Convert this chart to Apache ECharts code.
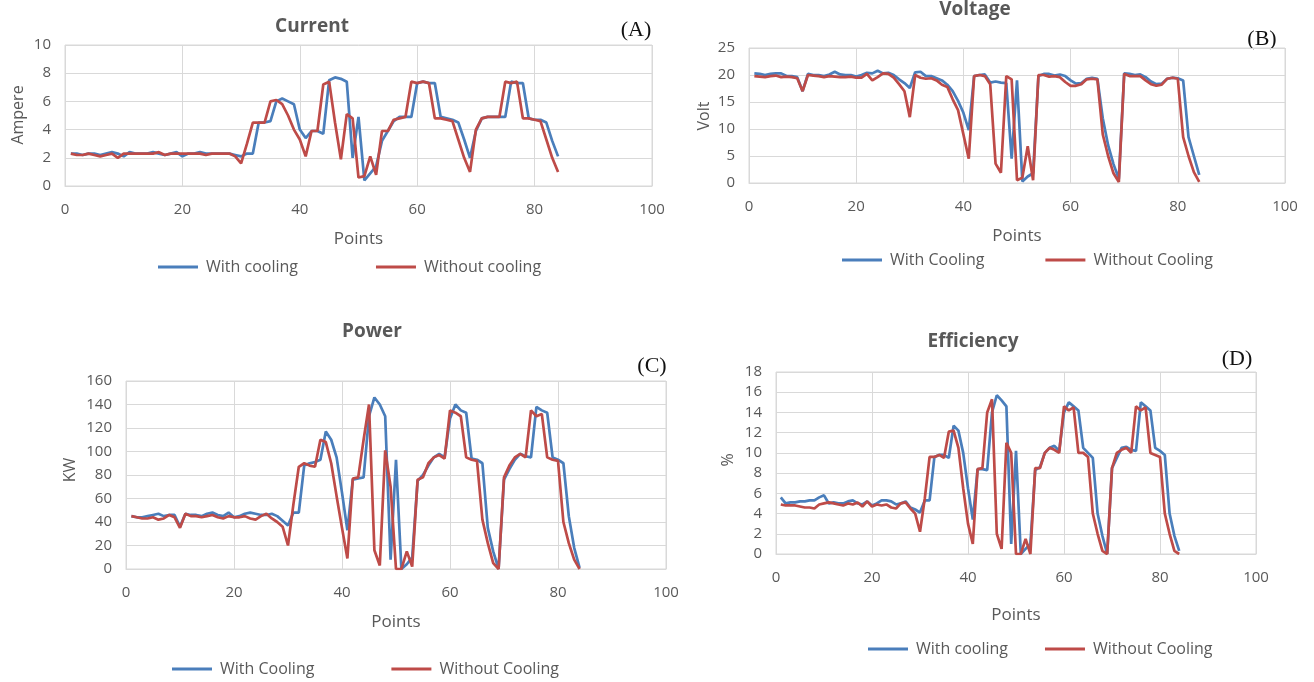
<!DOCTYPE html>
<html>
<head>
<meta charset="utf-8">
<script src="https://cdn.jsdelivr.net/npm/echarts@6/dist/echarts.min.js"></script>
<style>
  html, body { margin: 0; padding: 0; background: #fff; }
  #main { width: 1314px; height: 682px; }
</style>
</head>
<body>
<div id="main"></div>
<script>
// measurement points (x axis)
const points = [1, 2, 3, 4, 5, 6, 7, 8, 9, 10, 11, 12, 13, 14, 15, 16, 17, 18, 19, 20,
  21, 22, 23, 24, 25, 26, 27, 28, 29, 30, 31, 32, 33, 34, 35, 36, 37, 38, 39, 40,
  41, 42, 43, 44, 45, 46, 47, 48, 49, 50, 51, 52, 53, 54, 55, 56, 57, 58, 59, 60,
  61, 62, 63, 64, 65, 66, 67, 68, 69, 70, 71, 72, 73, 74, 75, 76, 77, 78, 79, 80,
  81, 82, 83, 84];

// (A) current, Ampere
const currentWith = [2.3, 2.3, 2.2, 2.3, 2.3, 2.2, 2.3, 2.4, 2.3, 2.1,
  2.4, 2.3, 2.3, 2.3, 2.4, 2.3, 2.2, 2.3, 2.4, 2.1,
  2.3, 2.3, 2.4, 2.3, 2.3, 2.3, 2.3, 2.3, 2.2, 2.1,
  2.3, 2.3, 4.5, 4.5, 4.6, 6.0, 6.2, 6.0, 5.8, 4.0,
  3.4, 3.9, 3.9, 3.7, 7.5, 7.7, 7.6, 7.4, 2.0, 4.9,
  0.4, 0.9, 1.4, 3.2, 3.9, 4.6, 4.9, 4.9, 4.9, 7.3,
  7.4, 7.3, 7.3, 4.9, 4.8, 4.7, 4.5, 3.3, 2.0, 3.9,
  4.8, 4.9, 4.9, 4.9, 4.9, 7.4, 7.3, 7.3, 4.8, 4.7,
  4.7, 4.5, 3.2, 2.1];
const currentWithout = [2.3, 2.2, 2.2, 2.3, 2.2, 2.1, 2.2, 2.3, 2.0, 2.3,
  2.3, 2.3, 2.3, 2.3, 2.3, 2.4, 2.2, 2.3, 2.3, 2.3,
  2.3, 2.3, 2.3, 2.2, 2.3, 2.3, 2.3, 2.3, 2.1, 1.6,
  3.0, 4.5, 4.5, 4.5, 6.0, 6.1, 5.8, 5.0, 4.0, 3.3,
  2.1, 3.9, 3.9, 7.2, 7.4, 4.5, 1.9, 5.1, 4.8, 0.6,
  0.7, 2.1, 0.8, 3.9, 3.9, 4.7, 4.8, 4.9, 7.4, 7.3,
  7.4, 7.3, 4.8, 4.8, 4.7, 4.6, 3.3, 2.0, 1.0, 4.0,
  4.8, 4.9, 4.9, 4.9, 7.4, 7.3, 7.4, 4.8, 4.8, 4.7,
  4.6, 3.3, 2.0, 1.0];

// (B) voltage, Volt
const voltageWith = [20.3, 20.2, 20.0, 20.2, 20.3, 20.3, 19.8, 19.8, 19.6, 17.0,
  20.2, 20.0, 20.0, 19.8, 20.1, 20.6, 20.1, 20.0, 20.0, 19.7,
  20.0, 20.4, 20.3, 20.8, 20.3, 20.4, 20.0, 19.2, 18.5, 17.6,
  20.5, 20.6, 19.8, 19.8, 19.4, 19.0, 18.2, 17.0, 15.2, 13.0,
  9.8, 19.8, 20.0, 20.1, 18.6, 18.8, 18.6, 18.5, 4.5, 19.0,
  0.3, 1.2, 1.8, 19.8, 20.2, 20.2, 19.9, 20.1, 19.8, 19.0,
  18.4, 18.5, 19.3, 19.5, 19.3, 12.0, 7.0, 3.5, 0.8, 20.3,
  20.2, 20.0, 20.1, 19.6, 18.8, 18.3, 18.4, 19.3, 19.5, 19.4,
  19.0, 8.5, 5.0, 1.5];
const voltageWithout = [19.8, 19.7, 19.6, 19.8, 19.9, 19.6, 19.7, 19.6, 19.4, 17.0,
  20.0, 19.9, 19.8, 19.6, 19.8, 19.7, 19.6, 19.6, 19.7, 19.5,
  19.5, 20.2, 19.0, 19.6, 20.3, 20.2, 19.5, 18.3, 17.0, 12.2,
  20.0, 19.5, 19.3, 19.4, 19.0, 18.2, 17.8, 15.5, 13.5, 9.0,
  4.5, 19.8, 20.0, 19.8, 18.3, 3.6, 1.9, 19.8, 19.2, 0.5,
  1.0, 6.8, 0.5, 20.0, 20.0, 19.7, 19.8, 19.6, 18.7, 18.0,
  18.0, 18.3, 19.2, 19.3, 19.2, 9.0, 5.0, 1.8, 0.2, 20.2,
  19.8, 19.8, 19.8, 19.0, 18.3, 18.0, 18.2, 19.3, 19.5, 19.3,
  8.5, 5.0, 2.0, 0.2];

// (C) power, KW
const powerWith = [45, 44, 44, 45, 46, 47, 45, 46, 46, 36,
  47, 46, 46, 45, 47, 48, 46, 45, 48, 44,
  45, 47, 48, 47, 46, 46, 47, 45, 41, 37,
  48, 48, 88, 90, 91, 93, 117, 110, 95, 65,
  33, 76, 77, 78, 130, 146, 140, 130, 8, 93,
  0, 4, 10, 75, 80, 88, 95, 98, 95, 128,
  140, 135, 133, 94, 93, 90, 35, 15, 0, 76,
  85, 93, 98, 96, 95, 138, 135, 133, 95, 93,
  90, 45, 18, 1];
const powerWithout = [45, 44, 43, 43, 44, 42, 43, 46, 44, 35,
  47, 45, 45, 44, 45, 46, 44, 43, 45, 44,
  44, 45, 43, 42, 45, 47, 43, 40, 36, 20,
  55, 87, 90, 88, 87, 110, 108, 90, 62, 35,
  9, 77, 78, 110, 140, 16, 3, 101, 70, 0,
  0, 15, 2, 76, 78, 90, 95, 97, 94, 135,
  133, 130, 95, 93, 92, 42, 22, 5, 0, 78,
  88, 95, 98, 95, 135, 130, 132, 95, 93, 92,
  40, 22, 8, 0];

// (D) efficiency, %
const effWith = [5.6, 5.0, 5.1, 5.1, 5.2, 5.2, 5.3, 5.3, 5.6, 5.8,
  5.0, 5.1, 5.0, 5.0, 5.2, 5.3, 5.0, 4.9, 5.2, 4.8,
  5.0, 5.3, 5.3, 5.2, 4.9, 5.0, 5.2, 4.6, 4.4, 4.1,
  5.3, 5.3, 9.6, 9.8, 9.8, 9.5, 12.7, 12.2, 10.0, 6.5,
  3.4, 8.4, 8.4, 8.3, 14.0, 15.7, 15.2, 14.6, 1.0, 10.2,
  0.0, 0.5, 1.0, 8.3, 8.6, 10.0, 10.5, 10.7, 10.2, 14.0,
  15.0, 14.6, 14.2, 10.5, 10.0, 9.5, 4.0, 1.8, 0.0, 8.5,
  9.5, 10.5, 10.6, 10.3, 10.2, 15.0, 14.6, 14.2, 10.5, 10.2,
  9.8, 4.0, 1.8, 0.3];
const effWithout = [4.9, 4.8, 4.8, 4.8, 4.7, 4.6, 4.6, 4.5, 4.9, 5.0,
  5.1, 5.0, 4.9, 4.8, 5.0, 4.9, 5.1, 4.7, 5.2, 4.7,
  4.9, 4.8, 4.9, 4.6, 4.5, 5.0, 5.1, 4.5, 4.0, 2.2,
  5.5, 9.6, 9.6, 9.8, 9.5, 12.1, 12.2, 10.5, 6.5, 3.0,
  1.0, 8.4, 8.5, 14.0, 15.3, 2.0, 0.5, 11.0, 10.0, 0.0,
  0.0, 1.5, 0.0, 8.5, 8.5, 10.0, 10.5, 10.3, 10.0, 14.6,
  14.2, 14.5, 10.0, 10.0, 9.6, 4.0, 2.0, 0.3, 0.0, 8.5,
  10.0, 10.3, 10.5, 10.0, 14.6, 14.2, 14.5, 10.0, 9.8, 9.6,
  4.0, 2.0, 0.3, 0.0];

const xTicks = [0, 20, 40, 60, 80, 100];

const BLUE = '#4a7ebb';
const RED = '#be4b48';
const GREY = '#595959';
const FONT = 'Open Sans';

// panels: plot area in px, y range, labels
const panels = [
  { left: 65, top: 45, width: 587, height: 141, max: 10, step: 2, nameGap: 45,
    withName: 'With cooling', withoutName: 'Without cooling', blue: currentWith, red: currentWithout,
    legend: { left: 153, top: 254, gap: 78 } },
  { left: 749, top: 48, width: 536, height: 135, max: 25, step: 5, nameGap: 45,
    withName: 'With Cooling', withoutName: 'Without Cooling', blue: voltageWith, red: voltageWithout,
    legend: { left: 837, top: 247, gap: 61 } },
  { left: 126, top: 381, width: 540, height: 188, max: 160, step: 20, nameGap: 45,
    withName: 'With Cooling', withoutName: 'Without Cooling', blue: powerWith, red: powerWithout,
    legend: { left: 167, top: 656, gap: 77 } },
  { left: 776, top: 372, width: 480, height: 182, max: 18, step: 2, nameGap: 53,
    withName: 'With cooling', withoutName: 'Without Cooling', blue: effWith, red: effWithout,
    legend: { left: 863, top: 636, gap: 37 } }
];

function pairs(vals) {
  return points.map((p, i) => [p, vals[i]]);
}

const chart = echarts.init(document.getElementById('main'));

const option = {
  backgroundColor: '#fff',
  animation: false,
  textStyle: { fontFamily: FONT },
  grid: panels.map(p => ({
    left: p.left, top: p.top, width: p.width, height: p.height,
    show: true, borderColor: '#d9d9d9', borderWidth: 1
  })),
  xAxis: panels.map((p, i) => ({
    type: 'value', gridIndex: i, min: xTicks[0], max: xTicks[xTicks.length - 1], interval: 20,
    name: 'Points', nameLocation: 'middle', nameGap: p.nameGap,
    nameTextStyle: { color: GREY, fontSize: 17, fontFamily: FONT },
    axisLine: { show: true, lineStyle: { color: '#d9d9d9' } },
    axisTick: { show: false },
    axisLabel: { color: GREY, fontSize: 15, margin: 16, fontFamily: FONT },
    splitLine: { show: true, lineStyle: { color: '#d9d9d9' } }
  })),
  yAxis: panels.map((p, i) => ({
    type: 'value', gridIndex: i, min: 0, max: p.max, interval: p.step,
    axisLine: { show: false },
    axisTick: { show: false },
    axisLabel: { color: GREY, fontSize: 15, margin: 14, fontFamily: FONT },
    splitLine: { show: true, lineStyle: { color: '#d9d9d9' } }
  })),
  legend: panels.map(p => ({
    left: p.legend.left, top: p.legend.top,
    data: [p.withName, p.withoutName],
    icon: 'rect', itemWidth: 40, itemHeight: 3, itemGap: p.legend.gap,
    textStyle: { color: GREY, fontSize: 16, fontFamily: FONT, padding: [0, 0, 0, 3] },
    selectedMode: false
  })),
  series: panels.flatMap((p, i) => [
    { name: p.withName, type: 'line', xAxisIndex: i, yAxisIndex: i, data: pairs(p.blue),
      showSymbol: false, color: BLUE, lineStyle: { width: 2.7, color: BLUE } },
    { name: p.withoutName, type: 'line', xAxisIndex: i, yAxisIndex: i, data: pairs(p.red),
      showSymbol: false, color: RED, lineStyle: { width: 2.7, color: RED } }
  ]),
  graphic: [
    // chart titles
    { type: 'text', x: 312, y: 27, style: { text: 'Current', align: 'center', verticalAlign: 'middle', fontSize: 19, fontWeight: 'bold', fontFamily: FONT, fill: GREY } },
    { type: 'text', x: 975, y: 10, style: { text: 'Voltage', align: 'center', verticalAlign: 'middle', fontSize: 19, fontWeight: 'bold', fontFamily: FONT, fill: GREY } },
    { type: 'text', x: 372, y: 332, style: { text: 'Power', align: 'center', verticalAlign: 'middle', fontSize: 19, fontWeight: 'bold', fontFamily: FONT, fill: GREY } },
    { type: 'text', x: 973, y: 342, style: { text: 'Efficiency', align: 'center', verticalAlign: 'middle', fontSize: 19, fontWeight: 'bold', fontFamily: FONT, fill: GREY } },
    // panel letters
    { type: 'text', x: 636, y: 30, style: { text: '(A)', align: 'center', verticalAlign: 'middle', fontSize: 22, fontFamily: 'Liberation Serif', fill: '#111' } },
    { type: 'text', x: 1262, y: 39, style: { text: '(B)', align: 'center', verticalAlign: 'middle', fontSize: 22, fontFamily: 'Liberation Serif', fill: '#111' } },
    { type: 'text', x: 652, y: 366, style: { text: '(C)', align: 'center', verticalAlign: 'middle', fontSize: 22, fontFamily: 'Liberation Serif', fill: '#111' } },
    { type: 'text', x: 1237, y: 359, style: { text: '(D)', align: 'center', verticalAlign: 'middle', fontSize: 22, fontFamily: 'Liberation Serif', fill: '#111' } },
    // y axis names
    { type: 'text', x: 18, y: 115, rotation: Math.PI / 2, style: { text: 'Ampere', align: 'center', verticalAlign: 'middle', fontSize: 16, fontFamily: FONT, fill: GREY } },
    { type: 'text', x: 704, y: 116, rotation: Math.PI / 2, style: { text: 'Volt', align: 'center', verticalAlign: 'middle', fontSize: 16, fontFamily: FONT, fill: GREY } },
    { type: 'text', x: 70, y: 470, rotation: Math.PI / 2, style: { text: 'KW', align: 'center', verticalAlign: 'middle', fontSize: 16, fontFamily: FONT, fill: GREY } },
    { type: 'text', x: 728, y: 460, rotation: Math.PI / 2, style: { text: '%', align: 'center', verticalAlign: 'middle', fontSize: 16, fontFamily: FONT, fill: GREY } }
  ]
};

chart.setOption(option);
</script>
</body>
</html>
